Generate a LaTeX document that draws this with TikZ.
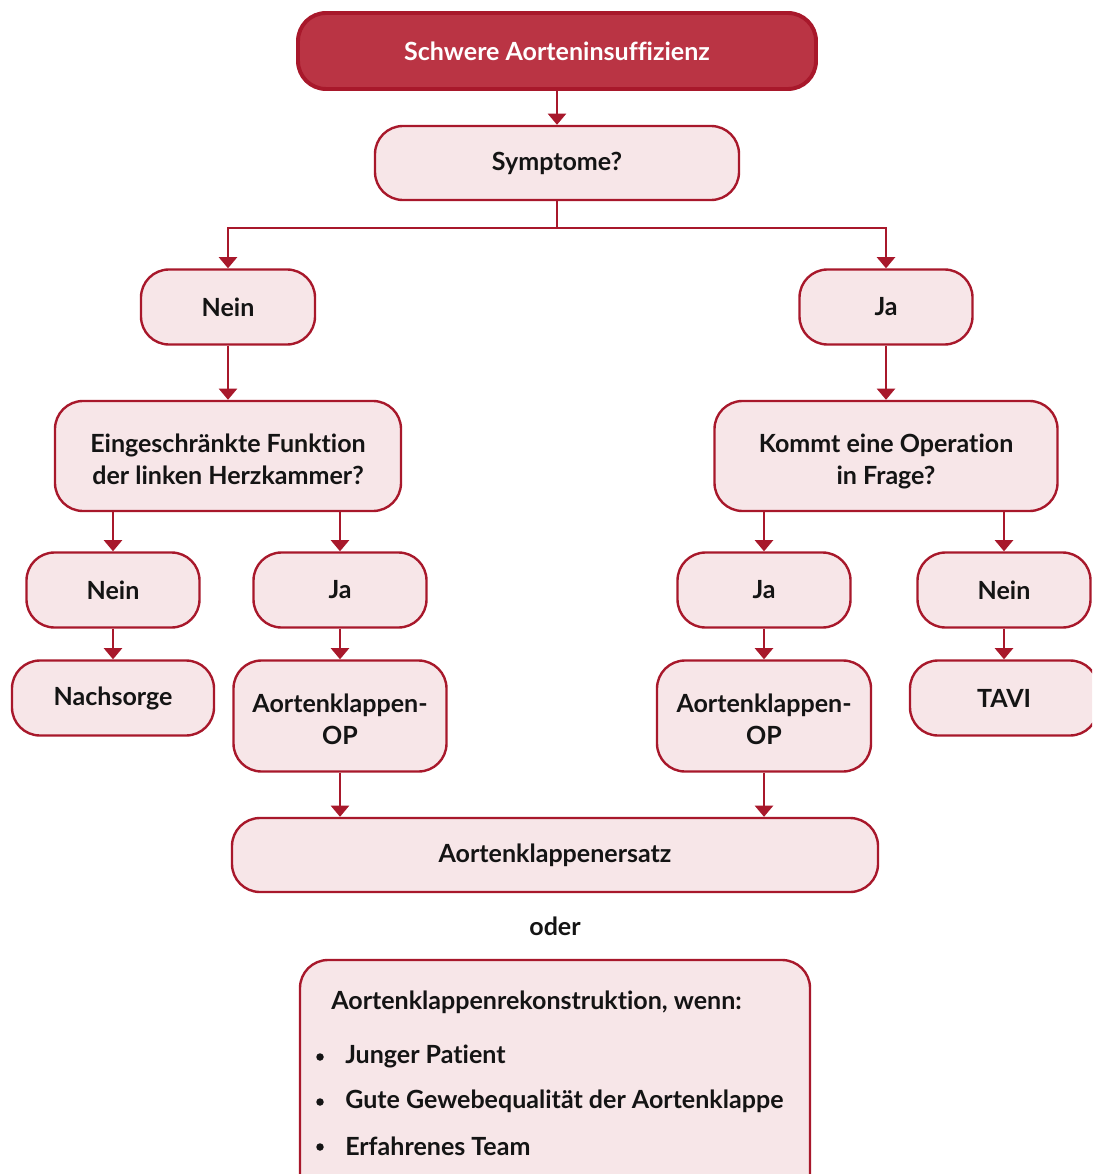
\documentclass[tikz,border=0pt]{standalone}
\usepackage{fontspec}
\setmainfont{Lato}[Ligatures={NoCommon}]
\usetikzlibrary{arrows.meta}
\definecolor{aortred}{HTML}{A8182B}
\definecolor{aortfill}{HTML}{BA3444}
\definecolor{aortpale}{HTML}{F7E6E8}
\definecolor{aorttext}{HTML}{141414}
\newlength\px \setlength\px{0.025cm}
% two text lines with fixed top and bottom struts
\newcommand\boxlines[2]{\rule{0pt}{22pt}#1\\#2\rule[-4pt]{0pt}{0pt}}

\begin{document}
\begin{tikzpicture}[x=1\px,y=-1\px]
	\tikzset{box/.style={draw=aortred,fill=aortpale,line width=1.7pt,
			rounded corners=28\px,align=center,inner sep=0pt,text=aorttext,
			font=\fontsize{17.8}{22.7}\selectfont\bfseries},
		boxsize/.style 2 args={minimum width=#1\px,minimum height=#2\px},
		topbox/.style={box,fill=aortfill,line width=2.8pt,text=white},
		arr/.style={draw=aortred,line width=1.5pt,-{Triangle[width=13pt,length=8pt]}},
		conn/.style={draw=aortred,line width=1.5pt},
		plain/.style={inner sep=0pt,text=aorttext,font=\fontsize{17.8}{22.7}\selectfont\bfseries},
		bullet/.style={circle,fill=aorttext,inner sep=0pt,minimum size=7.5\px}}
	\clip (0,0) rectangle (1092,1174);
	% first levels
	\node[topbox,boxsize={518}{76}] (top) at (557,51) {Schwere Aorteninsuffizienz};
	\node[box,boxsize={364}{74}] (symp) at (557,163) {Symptome?};
	\node[box,boxsize={174}{75}] (nein1) at (228,307) {Nein};
	\node[box,boxsize={173}{75}] (ja1) at (886,307) {Ja};
	\node[box,boxsize={346}{110}] (funk) at (228,456) {\boxlines{Eingeschränkte Funktion}{der linken Herzkammer?}};
	\node[box,boxsize={343}{110}] (oper) at (886,456) {\boxlines{Kommt eine Operation}{in Frage?}};
	% answers
	\node[box,boxsize={173}{75}] (nein2) at (113,590) {Nein};
	\node[box,boxsize={173}{75}] (ja2) at (340,590) {Ja};
	\node[box,boxsize={173}{75}] (ja3) at (764,590) {Ja};
	\node[box,boxsize={173}{75}] (nein3) at (1004,590) {Nein};
	% results
	\node[box,boxsize={202}{75}] (nach) at (113,698) {Nachsorge};
	\node[box,boxsize={213}{111}] (opl) at (340,716) {\boxlines{Aortenklappen-}{OP}};
	\node[box,boxsize={214}{111}] (opr) at (764,716) {\boxlines{Aortenklappen-}{OP}};
	\node[box,boxsize={188}{75}] (tavi) at (1004,698) {TAVI};
	\node[box,boxsize={646}{74}] (ersatz) at (555,855) {Aortenklappenersatz};
	\node[plain] (oder) at (555,926) {oder};
	\node[box,boxsize={510}{250}] (rekon) at (555,1085) {};
	\node[plain,anchor=west] (rhead) at (331,1002) {Aortenklappenrekonstruktion, wenn:};
	\foreach \t/\y [count=\i] in {Junger Patient/1056,Gute Gewebequalität der Aortenklappe/1101,Erfahrenes Team/1146}{
		\node[bullet] (dot\i) at (320,\y+1) {};
		\node[plain,anchor=west] (item\i) at (345,\y) {\t};
	}
	% connectors
	\coordinate (split) at (557,228);
	\draw[arr] (top) -- (symp);
	\draw[conn] (symp) -- (split);
	\draw[arr] (split) -| (nein1);
	\draw[arr] (split) -| (ja1);
	\draw[arr] (nein1) -- (funk);
	\draw[arr] (ja1) -- (oper);
	\draw[arr] (funk.south -| nein2.north) -- (nein2);
	\draw[arr] (funk.south -| ja2.north) -- (ja2);
	\draw[arr] (oper.south -| ja3.north) -- (ja3);
	\draw[arr] (oper.south -| nein3.north) -- (nein3);
	\draw[arr] (nein2) -- (nein2 |- nach.north);
	\draw[arr] (ja2) -- (opl);
	\draw[arr] (ja3) -- (opr);
	\draw[arr] (nein3) -- (tavi);
	\draw[arr] (opl) -- (opl |- ersatz.north);
	\draw[arr] (opr) -- (opr |- ersatz.north);
\end{tikzpicture}
\end{document}
